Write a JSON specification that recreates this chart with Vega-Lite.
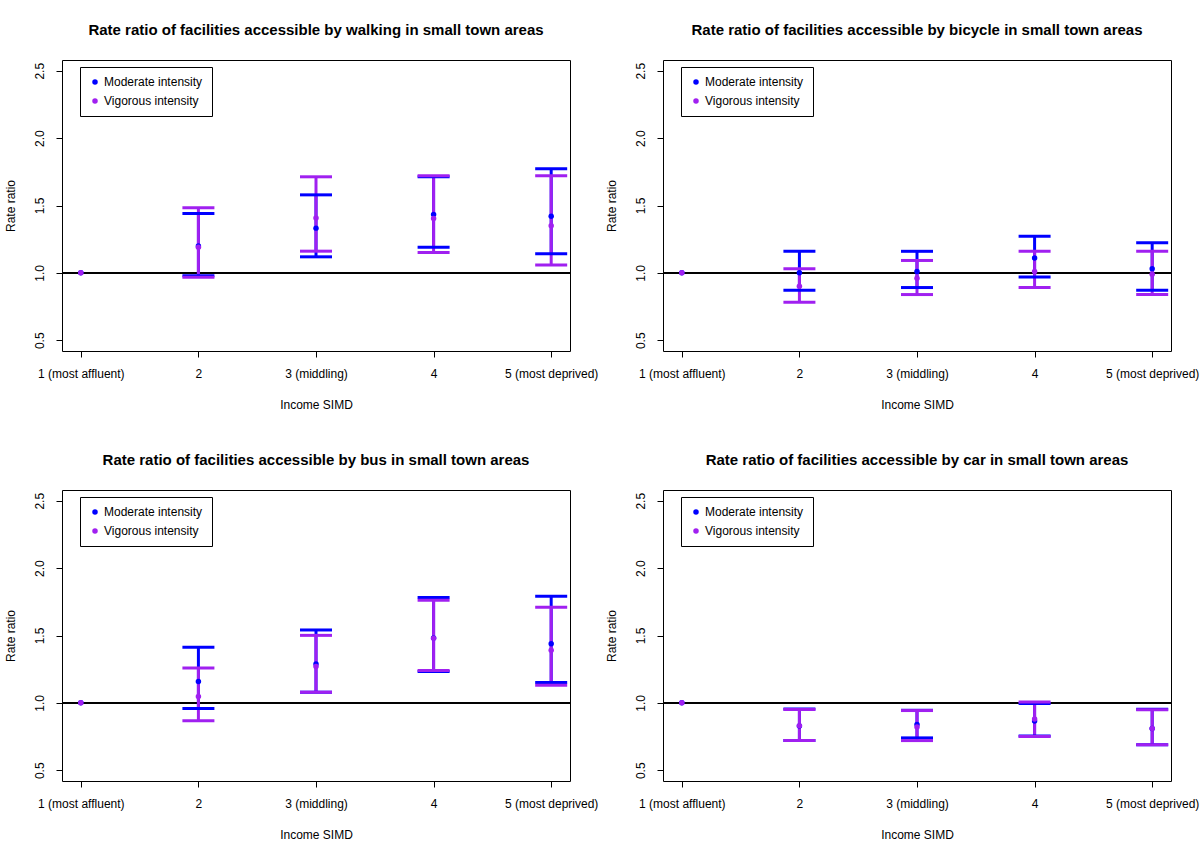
{
  "$schema": "https://vega.github.io/schema/vega-lite/v6.json",
  "background": "white",
  "padding": {"left": 3, "top": 22, "right": 0, "bottom": 0},
  "config": {
    "font": "Liberation Sans",
    "view": {"stroke": "black", "strokeWidth": 1},
    "axis": {"domain": false, "grid": false, "ticks": true, "tickColor": "black", "tickSize": 6, "tickWidth": 1, "labelFont": "Liberation Sans", "labelFontSize": 12, "labelColor": "black", "titleFont": "Liberation Sans", "titleFontSize": 12, "titleFontWeight": "normal", "titleColor": "black"},
    "axisY": {"labelAngle": -90, "labelAlign": "center", "labelBaseline": "bottom", "labelPadding": 10, "titlePadding": 16},
    "axisX": {"labelPadding": 11, "titlePadding": 20, "labelOverlap": false, "labelFlush": false, "labelBound": false},
    "title": {"fontSize": 15, "fontWeight": "bold", "font": "Liberation Sans", "color": "black", "offset": 22, "anchor": "middle"},
    "legend": {"title": null, "orient": "none", "legendX": 18, "legendY": 7, "strokeColor": "black", "fillColor": "white", "padding": 9, "symbolType": "circle", "symbolSize": 30, "labelFontSize": 12, "labelFont": "Liberation Sans", "labelColor": "black", "rowPadding": 7, "labelOffset": 3, "cornerRadius": 0}
  },
  "datasets": {
    "walk": [
      {"level": 1, "series": "Moderate intensity", "est": 1.0, "lo": null, "hi": null},
      {"level": 2, "series": "Moderate intensity", "est": 1.2, "lo": 0.978, "hi": 1.44},
      {"level": 3, "series": "Moderate intensity", "est": 1.332, "lo": 1.119, "hi": 1.579},
      {"level": 4, "series": "Moderate intensity", "est": 1.433, "lo": 1.19, "hi": 1.713},
      {"level": 5, "series": "Moderate intensity", "est": 1.421, "lo": 1.141, "hi": 1.772},
      {"level": 1, "series": "Vigorous intensity", "est": 1.0, "lo": null, "hi": null},
      {"level": 2, "series": "Vigorous intensity", "est": 1.19, "lo": 0.968, "hi": 1.483},
      {"level": 3, "series": "Vigorous intensity", "est": 1.408, "lo": 1.161, "hi": 1.713},
      {"level": 4, "series": "Vigorous intensity", "est": 1.403, "lo": 1.151, "hi": 1.72},
      {"level": 5, "series": "Vigorous intensity", "est": 1.349, "lo": 1.059, "hi": 1.72}
    ],
    "bike": [
      {"level": 1, "series": "Moderate intensity", "est": 1.0, "lo": null, "hi": null},
      {"level": 2, "series": "Moderate intensity", "est": 1.0, "lo": 0.871, "hi": 1.161},
      {"level": 3, "series": "Moderate intensity", "est": 1.01, "lo": 0.891, "hi": 1.16},
      {"level": 4, "series": "Moderate intensity", "est": 1.111, "lo": 0.97, "hi": 1.272},
      {"level": 5, "series": "Moderate intensity", "est": 1.03, "lo": 0.871, "hi": 1.223},
      {"level": 1, "series": "Vigorous intensity", "est": 1.0, "lo": null, "hi": null},
      {"level": 2, "series": "Vigorous intensity", "est": 0.9, "lo": 0.782, "hi": 1.03},
      {"level": 3, "series": "Vigorous intensity", "est": 0.96, "lo": 0.839, "hi": 1.092},
      {"level": 4, "series": "Vigorous intensity", "est": 1.01, "lo": 0.891, "hi": 1.161},
      {"level": 5, "series": "Vigorous intensity", "est": 0.99, "lo": 0.839, "hi": 1.161}
    ],
    "bus": [
      {"level": 1, "series": "Moderate intensity", "est": 1.0, "lo": null, "hi": null},
      {"level": 2, "series": "Moderate intensity", "est": 1.159, "lo": 0.958, "hi": 1.412},
      {"level": 3, "series": "Moderate intensity", "est": 1.288, "lo": 1.079, "hi": 1.541},
      {"level": 4, "series": "Moderate intensity", "est": 1.481, "lo": 1.233, "hi": 1.782},
      {"level": 5, "series": "Moderate intensity", "est": 1.439, "lo": 1.151, "hi": 1.792},
      {"level": 1, "series": "Vigorous intensity", "est": 1.0, "lo": null, "hi": null},
      {"level": 2, "series": "Vigorous intensity", "est": 1.047, "lo": 0.868, "hi": 1.258},
      {"level": 3, "series": "Vigorous intensity", "est": 1.27, "lo": 1.079, "hi": 1.501},
      {"level": 4, "series": "Vigorous intensity", "est": 1.48, "lo": 1.24, "hi": 1.762},
      {"level": 5, "series": "Vigorous intensity", "est": 1.39, "lo": 1.131, "hi": 1.71}
    ],
    "car": [
      {"level": 1, "series": "Moderate intensity", "est": 1.0, "lo": null, "hi": null},
      {"level": 2, "series": "Moderate intensity", "est": 0.829, "lo": 0.72, "hi": 0.955},
      {"level": 3, "series": "Moderate intensity", "est": 0.839, "lo": 0.74, "hi": 0.945},
      {"level": 4, "series": "Moderate intensity", "est": 0.866, "lo": 0.754, "hi": 0.995},
      {"level": 5, "series": "Moderate intensity", "est": 0.809, "lo": 0.69, "hi": 0.953},
      {"level": 1, "series": "Vigorous intensity", "est": 1.0, "lo": null, "hi": null},
      {"level": 2, "series": "Vigorous intensity", "est": 0.83, "lo": 0.72, "hi": 0.95},
      {"level": 3, "series": "Vigorous intensity", "est": 0.82, "lo": 0.72, "hi": 0.943},
      {"level": 4, "series": "Vigorous intensity", "est": 0.88, "lo": 0.75, "hi": 1.007},
      {"level": 5, "series": "Vigorous intensity", "est": 0.81, "lo": 0.69, "hi": 0.948}
    ]
  },
  "vconcat": [
    {
      "hconcat": [
        {
          "width": 508, "height": 291,
          "title": "Rate ratio of facilities accessible by walking in small town areas",
          "data": {"name": "walk"},
          "layer": [
            {"mark": {"type": "rule", "color": "black", "strokeWidth": 1}, "encoding": {"y": {"datum": 1, "type": "quantitative", "scale": {"domain": [0.42, 2.58]}, "axis": {"values": [0.5, 1, 1.5, 2, 2.5], "format": ".1f"}, "title": "Rate ratio"}}},
            {
              "encoding": {"x": {"field": "level", "type": "quantitative", "scale": {"domain": [0.84, 5.16]}, "axis": {"values": [1, 2, 3, 4, 5], "labelExpr": "datum.value == 1 ? '1 (most affluent)' : datum.value == 3 ? '3 (middling)' : datum.value == 5 ? '5 (most deprived)' : datum.label"}, "title": "Income SIMD"}},
              "layer": [
                {"mark": {"type": "rule", "strokeWidth": 3, "opacity": 1}, "encoding": {"y": {"field": "lo", "type": "quantitative", "scale": {"domain": [0.42, 2.58]}, "title": "Rate ratio"}, "y2": {"field": "hi"}, "color": {"condition": {"test": "datum.series == 'Moderate intensity'", "value": "#0000FF"}, "value": "#A020F0"}}},
                {"mark": {"type": "tick", "orient": "horizontal", "size": 32, "thickness": 3, "opacity": 1}, "encoding": {"y": {"field": "lo", "type": "quantitative", "scale": {"domain": [0.42, 2.58]}, "title": "Rate ratio"}, "color": {"condition": {"test": "datum.series == 'Moderate intensity'", "value": "#0000FF"}, "value": "#A020F0"}}},
                {"mark": {"type": "tick", "orient": "horizontal", "size": 32, "thickness": 3, "opacity": 1}, "encoding": {"y": {"field": "hi", "type": "quantitative", "scale": {"domain": [0.42, 2.58]}, "title": "Rate ratio"}, "color": {"condition": {"test": "datum.series == 'Moderate intensity'", "value": "#0000FF"}, "value": "#A020F0"}}},
                {"mark": {"type": "circle", "size": 30, "opacity": 1}, "encoding": {"y": {"field": "est", "type": "quantitative", "scale": {"domain": [0.42, 2.58]}, "title": "Rate ratio"}, "color": {"field": "series", "type": "nominal", "scale": {"domain": ["Moderate intensity", "Vigorous intensity"], "range": ["#0000FF", "#A020F0"]}}}}
              ]
            }
          ]
        },
        {
          "width": 508, "height": 291,
          "title": "Rate ratio of facilities accessible by bicycle in small town areas",
          "data": {"name": "bike"},
          "layer": [
            {"mark": {"type": "rule", "color": "black", "strokeWidth": 1}, "encoding": {"y": {"datum": 1, "type": "quantitative", "scale": {"domain": [0.42, 2.58]}, "axis": {"values": [0.5, 1, 1.5, 2, 2.5], "format": ".1f"}, "title": "Rate ratio"}}},
            {
              "encoding": {"x": {"field": "level", "type": "quantitative", "scale": {"domain": [0.84, 5.16]}, "axis": {"values": [1, 2, 3, 4, 5], "labelExpr": "datum.value == 1 ? '1 (most affluent)' : datum.value == 3 ? '3 (middling)' : datum.value == 5 ? '5 (most deprived)' : datum.label"}, "title": "Income SIMD"}},
              "layer": [
                {"mark": {"type": "rule", "strokeWidth": 3, "opacity": 1}, "encoding": {"y": {"field": "lo", "type": "quantitative", "scale": {"domain": [0.42, 2.58]}, "title": "Rate ratio"}, "y2": {"field": "hi"}, "color": {"condition": {"test": "datum.series == 'Moderate intensity'", "value": "#0000FF"}, "value": "#A020F0"}}},
                {"mark": {"type": "tick", "orient": "horizontal", "size": 32, "thickness": 3, "opacity": 1}, "encoding": {"y": {"field": "lo", "type": "quantitative", "scale": {"domain": [0.42, 2.58]}, "title": "Rate ratio"}, "color": {"condition": {"test": "datum.series == 'Moderate intensity'", "value": "#0000FF"}, "value": "#A020F0"}}},
                {"mark": {"type": "tick", "orient": "horizontal", "size": 32, "thickness": 3, "opacity": 1}, "encoding": {"y": {"field": "hi", "type": "quantitative", "scale": {"domain": [0.42, 2.58]}, "title": "Rate ratio"}, "color": {"condition": {"test": "datum.series == 'Moderate intensity'", "value": "#0000FF"}, "value": "#A020F0"}}},
                {"mark": {"type": "circle", "size": 30, "opacity": 1}, "encoding": {"y": {"field": "est", "type": "quantitative", "scale": {"domain": [0.42, 2.58]}, "title": "Rate ratio"}, "color": {"field": "series", "type": "nominal", "scale": {"domain": ["Moderate intensity", "Vigorous intensity"], "range": ["#0000FF", "#A020F0"]}}}}
              ]
            }
          ]
        }
      ],
      "spacing": 93,
      "bounds": "flush",
      "resolve": {"scale": {"color": "independent"}, "legend": {"color": "independent"}}
    },
    {
      "hconcat": [
        {
          "width": 508, "height": 291,
          "title": "Rate ratio of facilities accessible by bus in small town areas",
          "data": {"name": "bus"},
          "layer": [
            {"mark": {"type": "rule", "color": "black", "strokeWidth": 1}, "encoding": {"y": {"datum": 1, "type": "quantitative", "scale": {"domain": [0.42, 2.58]}, "axis": {"values": [0.5, 1, 1.5, 2, 2.5], "format": ".1f"}, "title": "Rate ratio"}}},
            {
              "encoding": {"x": {"field": "level", "type": "quantitative", "scale": {"domain": [0.84, 5.16]}, "axis": {"values": [1, 2, 3, 4, 5], "labelExpr": "datum.value == 1 ? '1 (most affluent)' : datum.value == 3 ? '3 (middling)' : datum.value == 5 ? '5 (most deprived)' : datum.label"}, "title": "Income SIMD"}},
              "layer": [
                {"mark": {"type": "rule", "strokeWidth": 3, "opacity": 1}, "encoding": {"y": {"field": "lo", "type": "quantitative", "scale": {"domain": [0.42, 2.58]}, "title": "Rate ratio"}, "y2": {"field": "hi"}, "color": {"condition": {"test": "datum.series == 'Moderate intensity'", "value": "#0000FF"}, "value": "#A020F0"}}},
                {"mark": {"type": "tick", "orient": "horizontal", "size": 32, "thickness": 3, "opacity": 1}, "encoding": {"y": {"field": "lo", "type": "quantitative", "scale": {"domain": [0.42, 2.58]}, "title": "Rate ratio"}, "color": {"condition": {"test": "datum.series == 'Moderate intensity'", "value": "#0000FF"}, "value": "#A020F0"}}},
                {"mark": {"type": "tick", "orient": "horizontal", "size": 32, "thickness": 3, "opacity": 1}, "encoding": {"y": {"field": "hi", "type": "quantitative", "scale": {"domain": [0.42, 2.58]}, "title": "Rate ratio"}, "color": {"condition": {"test": "datum.series == 'Moderate intensity'", "value": "#0000FF"}, "value": "#A020F0"}}},
                {"mark": {"type": "circle", "size": 30, "opacity": 1}, "encoding": {"y": {"field": "est", "type": "quantitative", "scale": {"domain": [0.42, 2.58]}, "title": "Rate ratio"}, "color": {"field": "series", "type": "nominal", "scale": {"domain": ["Moderate intensity", "Vigorous intensity"], "range": ["#0000FF", "#A020F0"]}}}}
              ]
            }
          ]
        },
        {
          "width": 508, "height": 291,
          "title": "Rate ratio of facilities accessible by car in small town areas",
          "data": {"name": "car"},
          "layer": [
            {"mark": {"type": "rule", "color": "black", "strokeWidth": 1}, "encoding": {"y": {"datum": 1, "type": "quantitative", "scale": {"domain": [0.42, 2.58]}, "axis": {"values": [0.5, 1, 1.5, 2, 2.5], "format": ".1f"}, "title": "Rate ratio"}}},
            {
              "encoding": {"x": {"field": "level", "type": "quantitative", "scale": {"domain": [0.84, 5.16]}, "axis": {"values": [1, 2, 3, 4, 5], "labelExpr": "datum.value == 1 ? '1 (most affluent)' : datum.value == 3 ? '3 (middling)' : datum.value == 5 ? '5 (most deprived)' : datum.label"}, "title": "Income SIMD"}},
              "layer": [
                {"mark": {"type": "rule", "strokeWidth": 3, "opacity": 1}, "encoding": {"y": {"field": "lo", "type": "quantitative", "scale": {"domain": [0.42, 2.58]}, "title": "Rate ratio"}, "y2": {"field": "hi"}, "color": {"condition": {"test": "datum.series == 'Moderate intensity'", "value": "#0000FF"}, "value": "#A020F0"}}},
                {"mark": {"type": "tick", "orient": "horizontal", "size": 32, "thickness": 3, "opacity": 1}, "encoding": {"y": {"field": "lo", "type": "quantitative", "scale": {"domain": [0.42, 2.58]}, "title": "Rate ratio"}, "color": {"condition": {"test": "datum.series == 'Moderate intensity'", "value": "#0000FF"}, "value": "#A020F0"}}},
                {"mark": {"type": "tick", "orient": "horizontal", "size": 32, "thickness": 3, "opacity": 1}, "encoding": {"y": {"field": "hi", "type": "quantitative", "scale": {"domain": [0.42, 2.58]}, "title": "Rate ratio"}, "color": {"condition": {"test": "datum.series == 'Moderate intensity'", "value": "#0000FF"}, "value": "#A020F0"}}},
                {"mark": {"type": "circle", "size": 30, "opacity": 1}, "encoding": {"y": {"field": "est", "type": "quantitative", "scale": {"domain": [0.42, 2.58]}, "title": "Rate ratio"}, "color": {"field": "series", "type": "nominal", "scale": {"domain": ["Moderate intensity", "Vigorous intensity"], "range": ["#0000FF", "#A020F0"]}}}}
              ]
            }
          ]
        }
      ],
      "spacing": 93,
      "bounds": "flush",
      "resolve": {"scale": {"color": "independent"}, "legend": {"color": "independent"}}
    }
  ],
  "spacing": 41,
  "resolve": {"scale": {"color": "independent"}, "legend": {"color": "independent"}}
}
